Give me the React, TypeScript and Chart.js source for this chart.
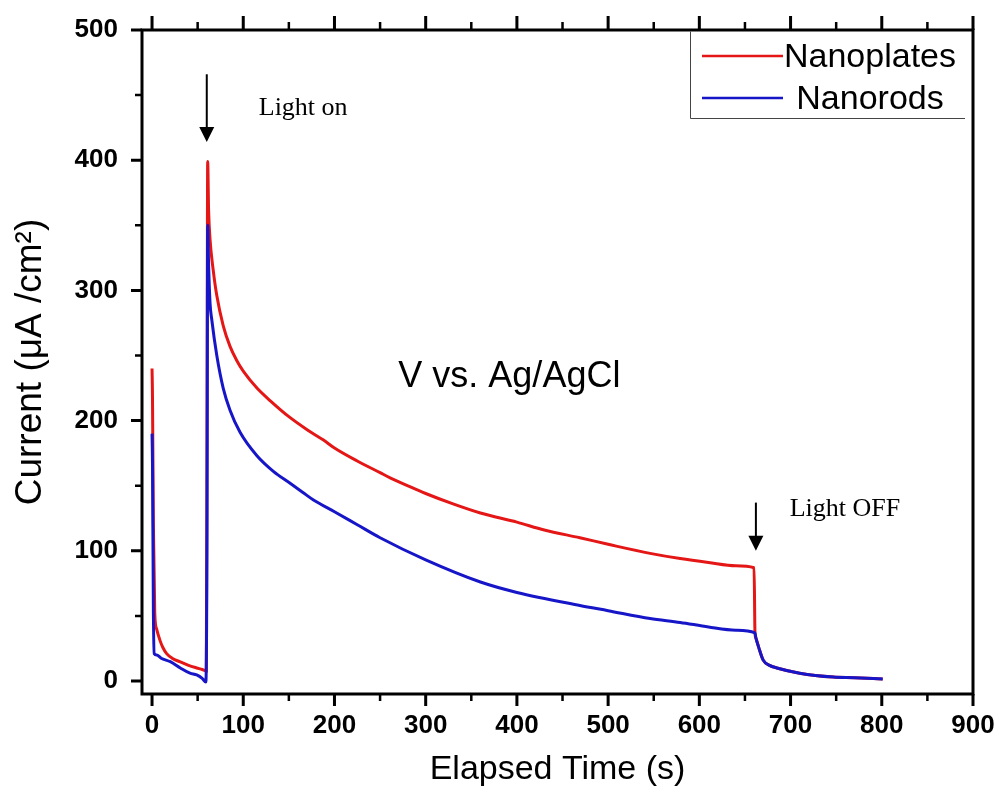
import React, { useEffect, useRef } from "react";
import { Chart, registerables } from "chart.js";

Chart.register(...registerables);

// ---- data ----
const seriesNames = ["Nanoplates", "Nanorods"];

const nanoplatesTime = [
  0, 0.5, 1.5, 3, 5, 8.8, 12, 16, 22, 31, 40, 49, 55, 59.5, 60.3, 61, 62, 63.6, 67, 71, 78, 85.5, 93, 100,
  115, 130, 150, 170, 188, 200, 225, 250, 261, 280, 300, 330, 360, 400, 430, 469, 500, 546, 579, 610, 640,
  660, 661, 662, 665, 670, 677, 685, 710, 747, 770, 801,
];
const nanoplatesCurrent = [
  240, 218, 120, 52, 40, 31, 25.5, 21, 17.5, 14.6, 12, 10, 8.8, 7.7, 200, 399, 362, 339, 316, 296, 273, 257,
  246, 238, 225, 215, 203, 193, 185, 179, 169, 160, 156, 150, 144, 136, 129, 122, 116, 110, 105, 98, 94, 91,
  88.5, 87, 37, 33, 26, 16, 12, 10, 6, 3, 2.5, 1.5,
];

const nanorodsTime = [
  0, 0.5, 1.5, 2.4, 5, 10, 20, 31, 41.6, 49, 55, 59, 60.2, 61, 62, 63.6, 65.4, 71, 78, 85.5, 96.5, 115, 133,
  151, 165, 177, 200, 225, 250, 300, 360, 400, 469, 500, 546, 579, 610, 640, 661, 662, 665, 670, 677, 685,
  710, 747, 770, 801,
];
const nanorodsCurrent = [
  190, 167, 52, 21, 20, 17.5, 14.8, 10, 6, 4.6, 2, -0.8, 100, 350, 320, 290, 278, 250, 225, 208, 191, 173,
  161, 152, 145, 139, 130, 120, 110, 93, 76, 68, 58, 54, 48, 45, 41.5, 39, 37, 33, 26, 16, 12, 10, 6, 3, 2.5,
  1.5,
];

const xTickValues = [0, 100, 200, 300, 400, 500, 600, 700, 800, 900];
const xMinorTickValues = [50, 150, 250, 350, 450, 550, 650, 750, 850];
const yTickValues = [0, 100, 200, 300, 400, 500];
const yMinorTickValues = [50, 150, 250, 350, 450];

const xAxisTitle = "Elapsed Time (s)";
const yAxisTitle = "Current (\u03bcA /cm\u00b2)";
const centerNote = "V vs. Ag/AgCl";
const lightOnLabel = "Light on";
const lightOffLabel = "Light OFF";
const lightOnTime = 60;
const lightOffTime = 662;

// ---- styles ----
const RED = "rgb(228,22,22)";
const BLUE = "rgb(22,22,200)";
const SANS = "'Liberation Sans', Arial, sans-serif";
const SERIF = "'Liberation Serif', 'Times New Roman', serif";

const framePlugin = {
  id: "frame",
  afterDraw(chart: any) {
    const ctx = chart.ctx;
    const { left, right, top, bottom } = chart.chartArea;
    const xs = chart.scales.x;
    const ys = chart.scales.y;
    ctx.save();
    ctx.strokeStyle = "#000";
    ctx.lineWidth = 3;
    ctx.lineCap = "butt";
    ctx.beginPath();
    ctx.moveTo(left, top - 1.5);
    ctx.lineTo(left, bottom + 1.5);
    ctx.moveTo(left - 1.5, bottom);
    ctx.lineTo(right + 1.5, bottom);
    ctx.moveTo(right, bottom + 1.5);
    ctx.lineTo(right, top - 1.5);
    ctx.moveTo(right + 1.5, top);
    ctx.lineTo(left - 1.5, top);
    ctx.stroke();

    ctx.lineWidth = 3;
    ctx.beginPath();
    xTickValues.forEach((v) => {
      const p = xs.getPixelForValue(v);
      ctx.moveTo(p, bottom);
      ctx.lineTo(p, bottom + 12);
      ctx.moveTo(p, top);
      ctx.lineTo(p, top - 14);
    });
    yTickValues.forEach((v) => {
      const p = ys.getPixelForValue(v);
      ctx.moveTo(left, p);
      ctx.lineTo(left - 11, p);
    });
    ctx.stroke();
    ctx.lineWidth = 2.5;
    ctx.beginPath();
    xMinorTickValues.forEach((v) => {
      const p = xs.getPixelForValue(v);
      ctx.moveTo(p, bottom);
      ctx.lineTo(p, bottom + 7);
      ctx.moveTo(p, top);
      ctx.lineTo(p, top - 8);
    });
    yMinorTickValues.forEach((v) => {
      const p = ys.getPixelForValue(v);
      ctx.moveTo(left, p);
      ctx.lineTo(left - 7, p);
    });
    ctx.stroke();

    // legend
    ctx.lineWidth = 1;
    ctx.strokeStyle = "#444";
    ctx.beginPath();
    ctx.moveTo(690.5, top + 1.5);
    ctx.lineTo(690.5, 118.5);
    ctx.lineTo(965, 118.5);
    ctx.stroke();
    const colors = [RED, BLUE];
    const rows = [56, 98];
    ctx.font = `34px ${SANS}`;
    ctx.fillStyle = "#000";
    ctx.textAlign = "center";
    ctx.textBaseline = "middle";
    seriesNames.forEach((name, i) => {
      ctx.strokeStyle = colors[i];
      ctx.lineWidth = 2.5;
      ctx.beginPath();
      ctx.moveTo(702, rows[i]);
      ctx.lineTo(783, rows[i]);
      ctx.stroke();
      ctx.fillText(name, 870, rows[i] + 2);
    });

    // annotations
    const arrow = (t: number, yFrom: number, yTo: number) => {
      const px = xs.getPixelForValue(t);
      const p0 = ys.getPixelForValue(yFrom);
      const p1 = ys.getPixelForValue(yTo);
      ctx.strokeStyle = "#000";
      ctx.fillStyle = "#000";
      ctx.lineWidth = 2;
      ctx.beginPath();
      ctx.moveTo(px, p0);
      ctx.lineTo(px, p1 - 12);
      ctx.stroke();
      ctx.beginPath();
      ctx.moveTo(px - 7.5, p1 - 15);
      ctx.lineTo(px + 7.5, p1 - 15);
      ctx.lineTo(px, p1);
      ctx.closePath();
      ctx.fill();
    };
    arrow(lightOnTime, 466, 414);
    arrow(lightOffTime, 137, 100);

    ctx.textAlign = "left";
    ctx.textBaseline = "alphabetic";
    ctx.font = `26px ${SERIF}`;
    ctx.fillText(lightOnLabel, xs.getPixelForValue(117), ys.getPixelForValue(435));
    ctx.fillText(lightOffLabel, xs.getPixelForValue(699), ys.getPixelForValue(127));
    ctx.font = `36px ${SANS}`;
    ctx.fillText(centerNote, xs.getPixelForValue(270), ys.getPixelForValue(226));
    ctx.restore();
  },
};

const zeroPad = (s: any) => {
  s.paddingLeft = 0;
  s.paddingRight = 0;
  s.paddingTop = 0;
  s.paddingBottom = 0;
};

export default function App() {
  const ref = useRef<HTMLCanvasElement | null>(null);
  useEffect(() => {
    if (!ref.current) return;
    const chart = new Chart(ref.current, {
      type: "line",
      data: {
        datasets: [
          {
            label: seriesNames[0],
            data: nanoplatesTime.map((t, i) => ({ x: t, y: nanoplatesCurrent[i] })),
            borderColor: RED,
            backgroundColor: RED,
            borderWidth: 3,
            pointRadius: 0,
            cubicInterpolationMode: "monotone",
            order: 2,
          },
          {
            label: seriesNames[1],
            data: nanorodsTime.map((t, i) => ({ x: t, y: nanorodsCurrent[i] })),
            borderColor: BLUE,
            backgroundColor: BLUE,
            borderWidth: 3,
            pointRadius: 0,
            cubicInterpolationMode: "monotone",
            order: 1,
          },
        ],
      },
      options: {
        responsive: false,
        animation: false,
        devicePixelRatio: 1,
        layout: { padding: { top: 30, right: 28, left: 0, bottom: 0 } },
        plugins: { legend: { display: false }, tooltip: { enabled: false } },
        scales: {
          x: {
            type: "linear",
            min: -11,
            max: 900,
            afterBuildTicks: (s: any) => {
              s.ticks = xTickValues.map((value) => ({ value }));
            },
            afterFit: (s: any) => {
              s.height = 106;
              zeroPad(s);
            },
            grid: { display: false, drawTicks: false },
            border: { display: false },
            ticks: {
              color: "#000",
              padding: 16,
              maxRotation: 0,
              autoSkip: false,
              font: { family: SANS, size: 26, weight: "bold" },
            },
            title: {
              display: true,
              text: xAxisTitle,
              color: "#000",
              font: { family: SANS, size: 34 },
              padding: { top: 0, bottom: 10 },
            },
          },
          y: {
            type: "linear",
            min: -10,
            max: 500,
            afterBuildTicks: (s: any) => {
              s.ticks = yTickValues.map((value) => ({ value }));
            },
            afterFit: (s: any) => {
              s.width = 142;
              zeroPad(s);
            },
            grid: { display: false, drawTicks: false },
            border: { display: false },
            ticks: {
              color: "#000",
              padding: 24,
              autoSkip: false,
              font: { family: SANS, size: 26, weight: "bold" },
            },
            title: {
              display: true,
              text: yAxisTitle,
              color: "#000",
              font: { family: SANS, size: 37 },
              padding: { top: 9, bottom: 0 },
            },
          },
        },
      },
      plugins: [framePlugin],
    } as any);
    return () => chart.destroy();
  }, []);
  return (
    <div style={{ position: "absolute", left: 0, top: 0, width: 1001, height: 800, background: "#fff" }}>
      <canvas ref={ref} width={1001} height={800} style={{ width: 1001, height: 800, display: "block" }} />
    </div>
  );
}
